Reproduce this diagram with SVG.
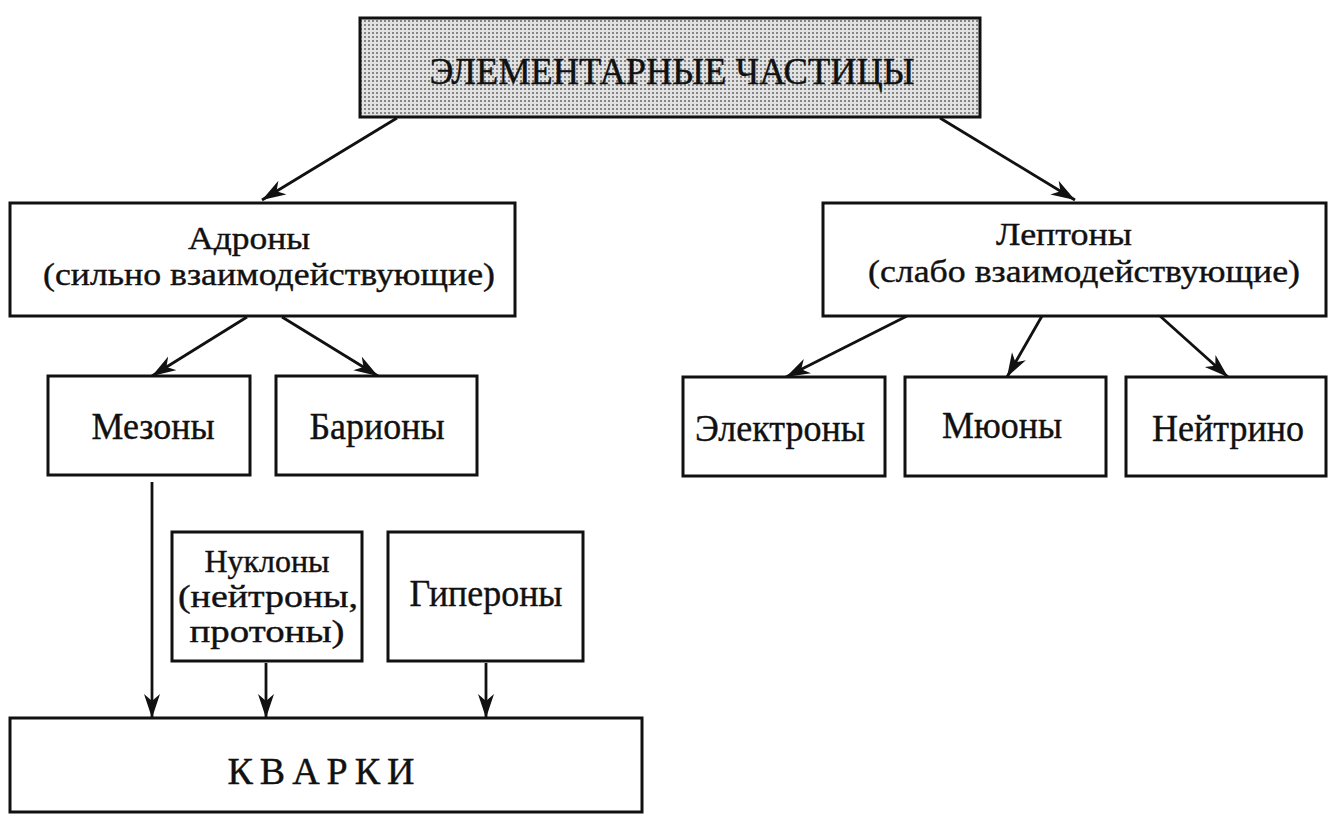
<svg xmlns="http://www.w3.org/2000/svg" width="1338" height="821" viewBox="0 0 1338 821">
<style>
.box{fill:#fff;stroke:#111;stroke-width:3}
.t{font-family:"Liberation Serif","Times New Roman",serif;font-size:38px;fill:#111;stroke:#111;stroke-width:0.4;text-anchor:middle}
.m{font-size:32px}
.c{stroke:#111;stroke-width:2.8;fill:none;marker-end:url(#ah)}
</style>
<defs>
<pattern id="dots" width="4" height="4" patternUnits="userSpaceOnUse">
<rect width="4" height="4" fill="#e2e2e2"/>
<rect width="2" height="2" fill="#858585"/>
</pattern>
<marker id="ah" markerUnits="userSpaceOnUse" markerWidth="26" markerHeight="18" refX="24" refY="8" orient="auto">
<path d="M0,0 L24,8 L0,16 L7,8 z" fill="#111"/>
</marker>
</defs>
<rect width="1338" height="821" fill="#fff"/>
<g id="connectors">
<line class="c" x1="397" y1="118" x2="262" y2="200"/>
<line class="c" x1="940" y1="118" x2="1075" y2="200"/>
<line class="c" x1="247" y1="317" x2="152" y2="376"/>
<line class="c" x1="282" y1="317" x2="378" y2="376"/>
<line class="c" x1="907" y1="316" x2="786" y2="377"/>
<line class="c" x1="1042" y1="316" x2="1007" y2="377"/>
<line class="c" x1="1160" y1="316" x2="1228" y2="377"/>
<line class="c" x1="152" y1="482" x2="152" y2="718"/>
<line class="c" x1="266" y1="663" x2="266" y2="718"/>
<line class="c" x1="486" y1="663" x2="486" y2="718"/>
</g>
<g id="root">
<rect x="360" y="18" width="620" height="99" fill="url(#dots)" stroke="#111" stroke-width="3"/>
<text class="t" x="672" y="84" font-size="44" textLength="485" lengthAdjust="spacingAndGlyphs">ЭЛЕМЕНТАРНЫЕ ЧАСТИЦЫ</text>
</g>
<g id="hadrons">
<rect class="box" x="10" y="203" width="505" height="113"/>
<text class="t m" x="249" y="249" textLength="122" lengthAdjust="spacingAndGlyphs">Адроны</text>
<text class="t m" x="269" y="285" textLength="452" lengthAdjust="spacingAndGlyphs">(сильно взаимодействующие)</text>
</g>
<g id="leptons">
<rect class="box" x="823" y="203" width="503" height="113"/>
<text class="t m" x="1064" y="245" textLength="136" lengthAdjust="spacingAndGlyphs">Лептоны</text>
<text class="t m" x="1084" y="282" textLength="432" lengthAdjust="spacingAndGlyphs">(слабо взаимодействующие)</text>
</g>
<g id="mesons">
<rect class="box" x="48" y="376" width="202" height="99"/>
<text class="t" x="153" y="439" textLength="123" lengthAdjust="spacingAndGlyphs">Мезоны</text>
</g>
<g id="baryons">
<rect class="box" x="276" y="376" width="201" height="99"/>
<text class="t" x="377" y="439" textLength="135" lengthAdjust="spacingAndGlyphs">Барионы</text>
</g>
<g id="electrons">
<rect class="box" x="683" y="377" width="202" height="99"/>
<text class="t" x="780" y="441" textLength="170" lengthAdjust="spacingAndGlyphs">Электроны</text>
</g>
<g id="muons">
<rect class="box" x="905" y="377" width="201" height="99"/>
<text class="t" x="1002" y="438" textLength="120" lengthAdjust="spacingAndGlyphs">Мюоны</text>
</g>
<g id="neutrino">
<rect class="box" x="1126" y="377" width="200" height="99"/>
<text class="t" x="1228" y="441" textLength="152" lengthAdjust="spacingAndGlyphs">Нейтрино</text>
</g>
<g id="nucleons">
<rect class="box" x="172" y="532" width="190" height="129"/>
<text class="t m" x="267" y="572" textLength="125" lengthAdjust="spacingAndGlyphs">Нуклоны</text>
<text class="t m" x="268" y="607" textLength="180" lengthAdjust="spacingAndGlyphs">(нейтроны,</text>
<text class="t m" x="267" y="642" textLength="155" lengthAdjust="spacingAndGlyphs">протоны)</text>
</g>
<g id="hyperons">
<rect class="box" x="388" y="532" width="195" height="129"/>
<text class="t" x="486" y="606" textLength="153" lengthAdjust="spacingAndGlyphs">Гипероны</text>
</g>
<g id="quarks">
<rect class="box" x="10" y="718" width="632" height="94"/>
<text class="t" x="321" y="784" textLength="187" lengthAdjust="spacing">К В А Р К И</text>
</g>
</svg>
